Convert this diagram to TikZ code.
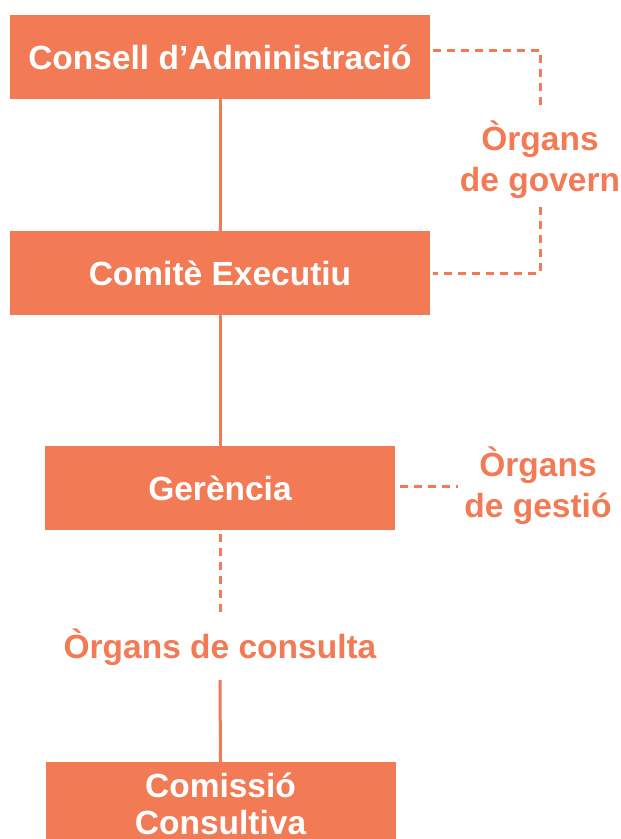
\documentclass[tikz,border=0pt]{standalone}
\usepackage{fontspec}
\setmainfont{Liberation Sans}
\definecolor{org}{HTML}{F27A55}
\begin{document}
\begin{tikzpicture}[x=1pt,y=-1pt,
  box/.style={fill=org,draw=none,inner sep=0pt,text=white,font=\bfseries\fontsize{33.5}{37}\selectfont,align=center},
  lbl/.style={text=org,font=\bfseries\fontsize{33.5}{41}\selectfont,align=center,inner sep=0pt},
  solidln/.style={draw=org,line width=3pt},
  dashln/.style={draw=org,line width=3pt,dash pattern=on 8pt off 6pt}]
\useasboundingbox (0,0) rectangle (621,839);
\node[box,minimum width=420pt,minimum height=84pt] (cons) at (220,57) {Consell d’Administració};
\node[box,minimum width=420pt,minimum height=84pt] (comi) at (220,273) {Comitè Executiu};
\node[box,minimum width=350pt,minimum height=84pt] (ger) at (220,488) {Gerència};
\node[box,minimum width=350pt,minimum height=84pt] (com) at (220.5,804) {Comissió\\Consultiva};
\node[lbl] (gov) at (540,160) {Òrgans\\de govern};
\node[lbl] (ges) at (538,486) {Òrgans\\de gestió};
\node[lbl] (cst) at (220,647) {Òrgans de consulta};
\draw[solidln] (cons.south) -- (comi.north);
\draw[solidln] (comi.south) -- (ger.north);
\coordinate (g1) at (433,50);
\coordinate (g2) at (540,50);
\coordinate (g3) at (540,108);
\coordinate (g4) at (540,207);
\coordinate (g5) at (540,273);
\coordinate (g6) at (433,273);
\draw[dashln] (g1) -- (g2) -- (g3);
\draw[dashln] (g4) -- (g5) -- (g6);
\coordinate (h1) at (400,486);
\coordinate (h2) at (458,486);
\draw[dashln] (h1) -- (h2);
\coordinate (c1) at (220,534);
\coordinate (c2) at (220,614);
\draw[dashln] (c1) -- (c2);
\coordinate (c3) at (220,680);
\draw[solidln] (c3) -- (com.north);
\end{tikzpicture}
\end{document}
